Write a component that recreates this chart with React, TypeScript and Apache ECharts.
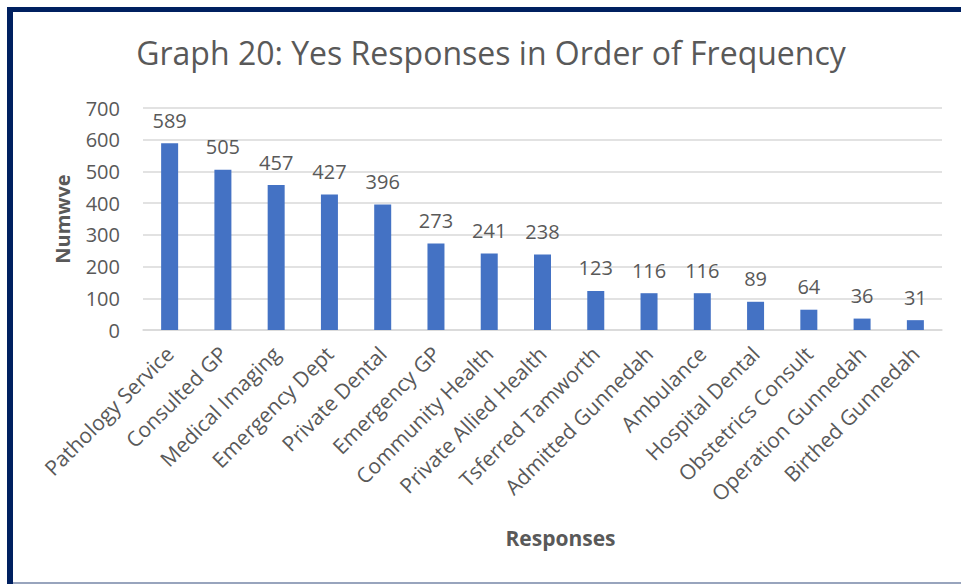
import React, { useEffect, useRef } from "react";
import * as echarts from "echarts";

const categories = [
  "Pathology Service",
  "Consulted GP",
  "Medical Imaging",
  "Emergency Dept",
  "Private Dental",
  "Emergency GP",
  "Community Health",
  "Private Allied Health",
  "Tsferred Tamworth",
  "Admitted Gunnedah",
  "Ambulance",
  "Hospital Dental",
  "Obstetrics Consult",
  "Operation Gunnedah",
  "Birthed Gunnedah",
];
const values = [589, 505, 457, 427, 396, 273, 241, 238, 123, 116, 116, 89, 64, 36, 31];

const FONT = "'Open Sans', 'Noto Sans', sans-serif";
const TEXT = "#595959";

export default function App() {
  const ref = useRef<HTMLDivElement>(null);
  useEffect(() => {
    document.body.style.margin = "0";
    const chart = echarts.init(ref.current!, undefined, { renderer: "svg" });
    chart.setOption({
      animation: false,
      backgroundColor: "#ffffff",
      title: {
        text: "Graph 20: Yes Responses in Order of Frequency",
        left: 486,
        textAlign: "center",
        top: 31,
        textStyle: { fontFamily: FONT, fontSize: 32, fontWeight: "normal", color: TEXT },
      },
      grid: { left: 143, right: 19, top: 108, bottom: 254 },
      xAxis: {
        type: "category",
        data: categories,
        name: "Responses",
        nameLocation: "middle",
        nameGap: 197,
        nameTextStyle: {
          fontFamily: FONT,
          fontSize: 21,
          fontWeight: "bold",
          color: TEXT,
          padding: [0, 0, 0, 36],
        },
        axisLine: { lineStyle: { color: "#d9d9d9", width: 1.5 } },
        axisTick: { show: false },
        axisLabel: {
          rotate: 45,
          interval: 0,
          fontFamily: FONT,
          fontSize: 21,
          color: TEXT,
          margin: 20,
        },
      },
      yAxis: {
        type: "value",
        min: 0,
        max: 700,
        interval: 100,
        name: "Numwve",
        nameLocation: "middle",
        nameGap: 71,
        nameTextStyle: { fontFamily: FONT, fontSize: 20, fontWeight: "bold", color: TEXT },
        axisLine: { show: false },
        axisTick: { show: false },
        axisLabel: { fontFamily: FONT, fontSize: 20, color: TEXT, margin: 23 },
        splitLine: { lineStyle: { color: "#d9d9d9", width: 1.5 } },
      },
      series: [
        {
          type: "bar",
          data: values,
          barWidth: 17,
          itemStyle: { color: "#4472C4" },
          label: {
            show: true,
            position: "top",
            distance: 13,
            fontFamily: FONT,
            fontSize: 20,
            color: TEXT,
          },
        },
      ],
      graphic: [
        { type: "rect", shape: { x: 7, y: 7, width: 6, height: 577 }, style: { fill: "#002060" }, z: 100 },
        { type: "rect", shape: { x: 7, y: 7, width: 954, height: 5 }, style: { fill: "#002060" }, z: 100 },
        { type: "rect", shape: { x: 13, y: 582, width: 948, height: 2 }, style: { fill: "#98a4bd" }, z: 100 },
      ],
    });
    return () => chart.dispose();
  }, []);
  return <div ref={ref} style={{ width: 961, height: 584 }} />;
}
